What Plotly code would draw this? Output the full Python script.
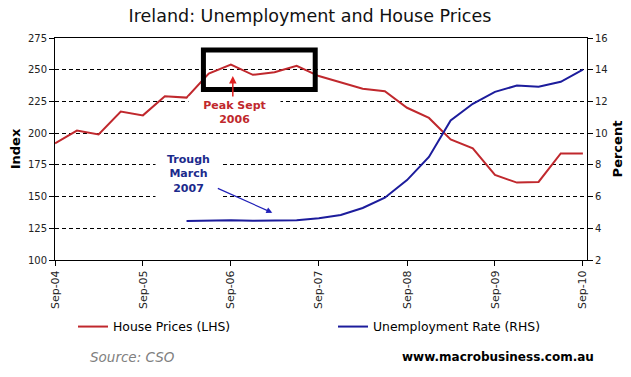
import plotly.graph_objects as go
import pandas as pd

# ---------------- data ----------------
quarters = [d.strftime("%Y-%m-%d") for d in pd.date_range("2004-09-01", "2010-09-01", freq="3MS")]

house_prices = [192, 202, 199, 217, 214, 229, 228, 247, 254, 246, 248, 253, 245,
                240, 235, 233, 220, 212, 195, 188, 167, 161, 161.5, 184, 184]

unemployment = [None, None, None, None, None, None,
                4.46, 4.5, 4.5, 4.47, 4.47, 4.5, 4.63,
                4.84, 5.28, 5.93, 7.04, 8.5, 10.8, 11.85, 12.6, 13.0, 12.93, 13.24, 14.0]

series_names = ["House Prices (LHS)", "Unemployment Rate (RHS)"]
title_text = "Ireland: Unemployment and House Prices"

RED = "#c0282d"
BLUE = "#1c1c9c"
FONT = "DejaVu Sans"

fig = go.Figure()
fig.add_trace(go.Scatter(x=quarters, y=house_prices, name=series_names[0], mode="lines",
                         line=dict(color=RED, width=2), yaxis="y", legend="legend"))
fig.add_trace(go.Scatter(x=quarters, y=unemployment, name=series_names[1], mode="lines",
                         line=dict(color=BLUE, width=2), yaxis="y2", connectgaps=False,
                         legend="legend2"))

LEG_Y = -(327 - 260) / 222

fig.update_layout(
    width=631, height=377,
    margin=dict(l=55, r=44, t=38, b=117, autoexpand=False),
    paper_bgcolor="white", plot_bgcolor="white",
    font=dict(family=FONT, color="#222", size=11),
    title=dict(text=title_text, x=310 / 631, xref="container", xanchor="center",
               y=1 - 16 / 377, yref="container", yanchor="middle",
               font=dict(family=FONT, size=17.5, color="#111")),
    xaxis=dict(type="date", range=["2004-09-01", "2010-09-18"], automargin=False,
               tick0="2004-09-01", dtick="M12", tickformat="%b-%y", tickangle=-90,
               showgrid=False, showline=True, linecolor="black", linewidth=1, mirror=True,
               ticks="outside", ticklen=5, tickcolor="black",
               tickfont=dict(family=FONT, size=11, color="#222")),
    yaxis=dict(range=[100, 275], dtick=25, showline=True, linecolor="black", linewidth=1,
               automargin=False, ticks="outside", ticklen=5, tickcolor="black",
               showgrid=True, gridcolor="black", gridwidth=1, griddash="4px,3px",
               zeroline=False, tickfont=dict(family=FONT, size=10, color="#222"),
               title=dict(text="<b>Index</b>", standoff=4, font=dict(family=FONT, size=13, color="black"))),
    yaxis2=dict(range=[2, 16], dtick=2, overlaying="y", side="right", showline=True,
                automargin=False, linecolor="black", linewidth=1, ticks="outside", ticklen=5,
                tickcolor="black", showgrid=False, zeroline=False,
                tickfont=dict(family=FONT, size=10, color="#222"),
                title=dict(text="<b>Percent</b>", standoff=6, font=dict(family=FONT, size=13, color="black"))),
    legend=dict(orientation="h", x=(73 - 55) / 532, xanchor="left", y=LEG_Y, yanchor="middle",
                font=dict(family=FONT, size=12.4, color="black"), bgcolor="rgba(0,0,0,0)"),
    legend2=dict(orientation="h", x=(333 - 55) / 532, xanchor="left", y=LEG_Y, yanchor="middle",
                 font=dict(family=FONT, size=12.4, color="black"), bgcolor="rgba(0,0,0,0)"),
    showlegend=True,
)

# Black highlight box around the peak
fig.add_shape(type="rect", xref="x", yref="y", x0="2006-05-10", x1="2007-08-17",
              y0=234.4, y1=265.6, line=dict(color="black", width=5), fillcolor="rgba(0,0,0,0)")

# Peak annotation
fig.add_annotation(xref="x", yref="y", x="2006-09-18", y=216.5, text="<b>Peak Sept<br>2006</b>",
                   showarrow=False, font=dict(family=FONT, size=11, color=RED),
                   bgcolor="white", width=87, borderpad=2)
fig.add_annotation(xref="x", yref="y", x="2006-09-09", y=245, text="", showarrow=True,
                   ax=0, ay=22, arrowhead=2, arrowsize=1, arrowwidth=1.5, arrowcolor="#e02020")

# Trough annotation
fig.add_annotation(xref="x", yref="y2", x="2006-03-08", y=7.45, text="<b>Trough<br>March<br>2007</b>",
                   showarrow=False, font=dict(family=FONT, size=11, color="#1c2a8c"),
                   bgcolor="white", width=59, borderpad=3)
fig.add_annotation(xref="x", yref="y2", x="2007-02-20", y=4.98, text="", showarrow=True,
                   ax=-56, ay=-25, arrowhead=2, arrowsize=1, arrowwidth=1.2, arrowcolor="#2020b8")

# Footer texts
fig.add_annotation(xref="paper", yref="paper", x=(88 - 55) / 532, y=-(357 - 260) / 222,
                   xanchor="left", yanchor="middle", text="<i>Source: CSO</i>", showarrow=False,
                   font=dict(family=FONT, size=13.5, color="#808080"))
fig.add_annotation(xref="paper", yref="paper", x=(596 - 55) / 532, y=-(357 - 260) / 222,
                   xanchor="right", yanchor="middle", text="<b>www.macrobusiness.com.au</b>",
                   showarrow=False, font=dict(family=FONT, size=12, color="black"))

fig.write_html("out.html", config={"displayModeBar": False},
               post_script="document.body.style.margin='0';")
